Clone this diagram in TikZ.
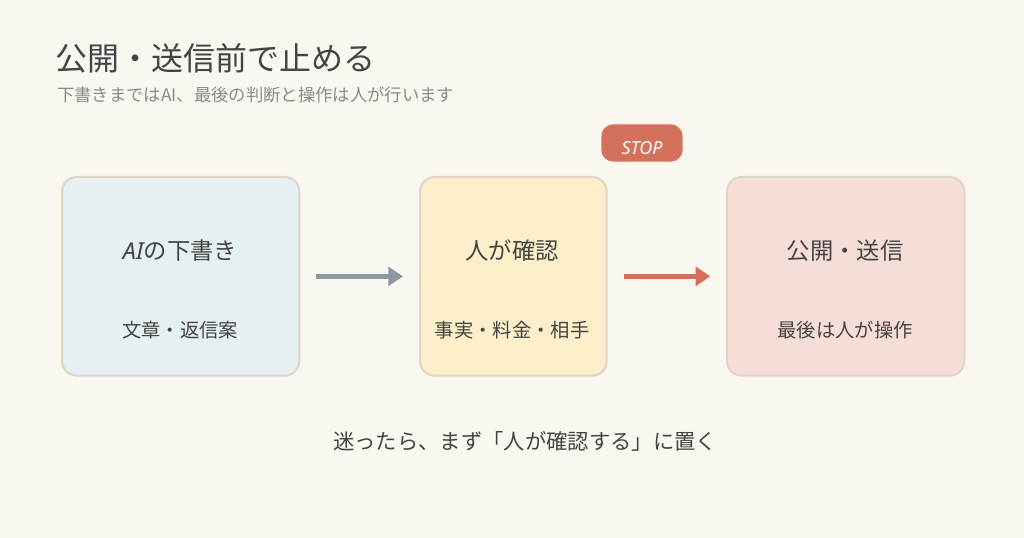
\documentclass[tikz,border=0pt]{standalone}
\usepackage{fontspec}
\setmainfont{Noto Sans CJK JP}
\newfontfamily\latinfont{Noto Sans}
\usetikzlibrary{arrows.meta}
\definecolor{bgcol}{HTML}{FAF7F1}
\definecolor{inkcol}{HTML}{444444}
\definecolor{subcol}{HTML}{8A8A8A}
\definecolor{edgecol}{HTML}{E0D6C8}
\definecolor{aicol}{HTML}{E6F0F2}
\definecolor{checkcol}{HTML}{FDEFC9}
\definecolor{pubcol}{HTML}{F7DDD8}
\definecolor{stopcol}{HTML}{D4715A}
\definecolor{graycol}{HTML}{8A9AA3}
\tikzset{
  step box/.style={draw=edgecol, line width=1.5pt, rounded corners=11pt, minimum height=149pt, anchor=north west},
  head/.style={text=inkcol, font=\fontsize{17.5}{20}\selectfont},
  note/.style={text=inkcol, font=\fontsize{14.5}{16}\selectfont},
  flow/.style={line width=4pt, -{Triangle[length=11pt,width=14pt]}},
}
\begin{document}
\begin{tikzpicture}[x=0.75pt,y=-0.75pt]
\useasboundingbox[fill=bgcol] (0,0) rectangle (1024,538);
\node[anchor=west, inner sep=0pt, text=inkcol, font=\fontsize{24}{28}\selectfont] (title) at (55,58) {公開・送信前で止める};
\node[anchor=west, inner sep=0pt, text=subcol, font=\fontsize{13}{15}\selectfont] (subtitle) at (57,95) {下書きまではAI、最後の判断と操作は人が行います};

\node[step box, fill=aicol, minimum width=178pt] (ai) at (61,176) {};
\node[step box, fill=checkcol, minimum width=140pt] (check) at (419,176) {};
\node[step box, fill=pubcol, minimum width=178pt] (pub) at (726,176) {};

\node[head] (aihead) at (180,251) {{\latinfont\itshape AI}の下書き};
\node[note] (ainote) at (180,330) {文章・返信案};
\node[head] (checkhead) at (512,251) {人が確認};
\node[note] (checknote) at (512,330) {事実・料金・相手};
\node[head] (pubhead) at (845,251) {公開・送信};
\node[note] (pubnote) at (845,330) {最後は人が操作};

\node[fill=stopcol, rounded corners=9pt, minimum width=61pt, minimum height=28pt] (stop) at (642,143) {};
\node[text=white, font=\latinfont\itshape\fontsize{13.5}{15}\selectfont] (stoptext) at (642,148) {STOP};

\draw[flow, graycol] (ai.east) ++(12pt,0) coordinate (a1) -- ++(65pt,0) coordinate (a2);
\draw[flow, stopcol] (check.east) ++(12pt,0) coordinate (b1) -- ++(65pt,0) coordinate (b2);

\node[text=inkcol, font=\fontsize{16}{18}\selectfont] (tip) at (525,441) {迷ったら、まず「人が確認する」に置く};
\end{tikzpicture}
\end{document}
